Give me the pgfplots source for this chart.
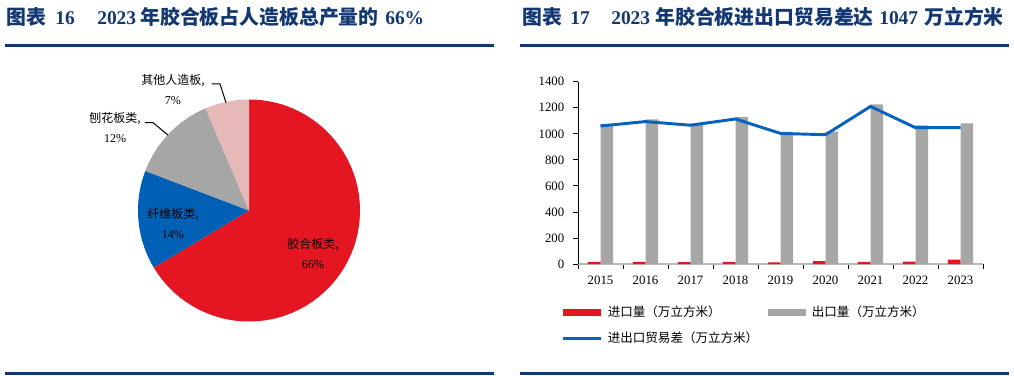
\documentclass[border=0pt]{standalone}
\usepackage{fontspec}
\setmainfont{Liberation Serif}
\newfontfamily\cjk{Noto Sans CJK SC}
\usepackage{pgfplots}
\pgfplotsset{compat=1.18}
\definecolor{navy}{RGB}{18,55,115}
\definecolor{pieRed}{RGB}{228,22,33}
\definecolor{pieBlue}{RGB}{0,96,181}
\definecolor{pieGray}{RGB}{166,166,166}
\definecolor{piePink}{RGB}{230,184,183}
\definecolor{lineBlue}{RGB}{6,98,190}
% pie shares (%)
\def\vGlue{66.4}
\def\vFibre{14.4}
\def\vParticle{12.8}
\def\vOther{6.4}
\pgfmathsetmacro\aA{90}
\pgfmathsetmacro\aB{\aA-3.6*\vGlue}
\pgfmathsetmacro\aC{\aB-3.6*\vFibre}
\pgfmathsetmacro\aD{\aC-3.6*\vParticle}
\pgfmathsetmacro\aE{\aD-3.6*\vOther}
\newcommand{\zt}[1]{{\cjk\fontsize{14.9}{16}\selectfont #1}}
\begin{document}
\begin{tikzpicture}
\begin{scope}[x=0.75pt,y=-0.75pt,shift={(0pt,281.25pt)}]
 % rules
 \fill[navy] (5,44.5) rectangle (494,47.5);
 \fill[navy] (520,44.5) rectangle (1009,47.5);
 \fill[navy] (5,372) rectangle (494,375);
 \fill[navy] (520,372) rectangle (1009,375);
 % titles
 \begin{scope}[every node/.style={anchor=base west, inner sep=0pt, text=navy, font=\fontsize{14.6}{16}\selectfont\bfseries}]
 \node at (6,24.5) {\zt{图表}};
 \node at (55,24.5) {16};
 \node at (97,24.5) {2023};
 \node at (140,24.5) {\zt{年胶合板占人造板总产量的}};
 \node at (385,24.5) {66\%};
 \node at (522,24.5) {\zt{图表}};
 \node at (570,24.5) {17};
 \node at (611,24.5) {2023};
 \node at (655,24.5) {\zt{年胶合板进出口贸易差达}};
 \node at (879,24.5) {1047};
 \node at (924,24.5) {\zt{万立方米}};
 \end{scope}
\end{scope}

% ---------- pie ----------
\begin{axis}[at={(186.75pt,123.375pt)}, anchor=origin, x=83.25pt, y=83.25pt,
  xmin=-1.3, xmax=1.3, ymin=-1.1, ymax=1.3, hide axis, clip=false]
 \fill[pieRed] (0,0) -- ({cos(\aA)},{sin(\aA)}) arc[start angle=\aA, end angle=\aB, radius=83.25pt] -- cycle;
 \fill[pieBlue] (0,0) -- ({cos(\aB)},{sin(\aB)}) arc[start angle=\aB, end angle=\aC, radius=83.25pt] -- cycle;
 \fill[pieGray] (0,0) -- ({cos(\aC)},{sin(\aC)}) arc[start angle=\aC, end angle=\aD, radius=83.25pt] -- cycle;
 \fill[piePink] (0,0) -- ({cos(\aD)},{sin(\aD)}) arc[start angle=\aD, end angle=\aE, radius=83.25pt] -- cycle;
 \draw[black, line width=0.75pt] (-0.336,1.140) -- (-0.261,1.140) -- (-0.207,0.971);
 \draw[black, line width=0.75pt] (-0.937,0.791) -- (-0.865,0.791) -- (-0.730,0.680);
 \begin{scope}[every node/.style={align=center, inner sep=0pt, font=\fontsize{9}{15}\selectfont}]
 \node at (0.577,-0.383) {{\cjk 胶合板类,}\\66\%};
 \node at (-0.685,-0.113) {{\cjk 纤维板类,}\\14\%};
 \node at (-1.207,0.743) {{\cjk 刨花板类,}\\12\%};
 \node at (-0.685,1.09) {{\cjk 其他人造板,}\\7\%};
 \end{scope}
\end{axis}

% ---------- bars + line ----------
\begin{axis}[at={(433.5pt,83.25pt)}, anchor=south west, scale only axis,
  width=303.75pt, height=136.7pt,
  xmin=-0.5, xmax=8.5, ymin=0, ymax=1400,
  ytick={0,200,...,1400},
  xtick={0,...,8}, xticklabels={2015,2016,2017,2018,2019,2020,2021,2022,2023},
  minor xtick={-0.5,0.5,...,8.5},
  axis x line*=bottom, axis y line*=left, axis line style={-},
  x axis line style={draw=gray!55, line width=0.9pt},
  y axis line style={draw=black, line width=0.6pt},
  tick align=outside, major tick length=3.75pt, minor tick length=3.75pt,
  major x tick style={draw=none},
  minor x tick style={draw=black, line width=0.6pt},
  ytick style={draw=black, line width=0.6pt},
  /pgf/number format/assume math mode=true,
  /pgf/number format/1000 sep={},
  tick label style={font=\fontsize{9.6}{11}\selectfont},
  yticklabel style={xshift=-3pt},
  xticklabel style={yshift=-1.5pt},
  legend columns=2, legend cell align=left,
  legend style={at={(-0.042,-0.214)}, anchor=north west, draw=none, fill=none,
    inner sep=0pt, font=\cjk\fontsize{9.4}{11}\selectfont, row sep=6pt,
    /tikz/every odd column/.append style={column sep=2.25pt},
    /tikz/every even column/.append style={column sep=5.5pt}},
  clip=false]
 \addplot[ybar, bar width=9.4pt, bar shift=-4.7pt, fill=pieRed, draw=none,
   legend image code/.code={\fill[pieRed] (0pt,-2.6pt) rectangle (28.5pt,2.6pt);}]
   coordinates {(0,17) (1,17) (2,15) (3,16) (4,12) (5,23) (6,17) (7,18) (8,33)};
 \addlegendentry{进口量（万立方米）}
 \addplot[ybar, bar width=9.4pt, bar shift=4.7pt, fill=pieGray, draw=none,
   legend image code/.code={\fill[pieGray] (0pt,-2.6pt) rectangle (28.5pt,2.6pt);}]
   coordinates {(0,1077) (1,1111) (2,1081) (3,1130) (4,1015) (5,1016) (6,1227) (7,1065) (8,1080)};
 \addlegendentry{出口量（万立方米）}
 \addplot[lineBlue, line width=2.2pt, mark=none,
   legend image code/.code={\draw[lineBlue, line width=2.2pt] (0pt,0pt) -- (28.5pt,0pt);}]
   coordinates {(0,1060) (1,1094) (2,1066) (3,1114) (4,1003) (5,993) (6,1210) (7,1047) (8,1047)};
 \addlegendentry{进出口贸易差（万立方米）}
\end{axis}
\pgfresetboundingbox
\path[use as bounding box] (0,0) rectangle (760.5pt,281.25pt);
\end{tikzpicture}
\end{document}
